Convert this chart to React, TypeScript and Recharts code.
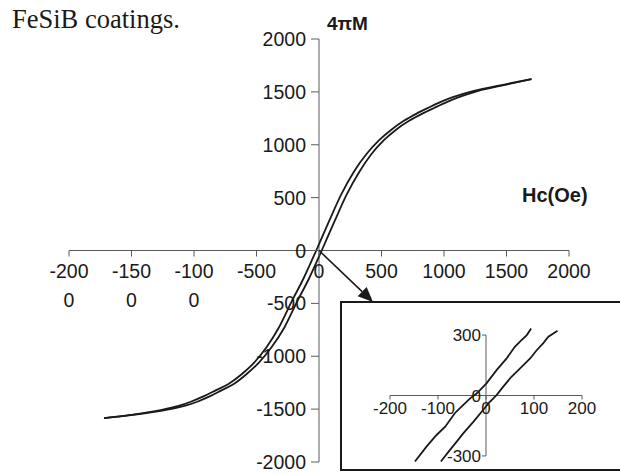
import React from 'react';
import { LineChart, Line, XAxis, YAxis, ReferenceLine } from 'recharts';

// ---------- main loop data ----------
const xTicks = [-2000, -1500, -1000, -500, 0, 500, 1000, 1500, 2000];
const xTickLabels = [['-200', '0'], ['-150', '0'], ['-100', '0'], ['-500'], ['0'], ['500'], ['1000'], ['1500'], ['2000']];
const yTicks = [-2000, -1500, -1000, -500, 0, 500, 1000, 1500, 2000];
const yTickLabels = ['-2000', '-1500', '-1000', '-500', '0', '500', '1000', '1500', '2000'];

const loopM = [-1585, -1555, -1510, -1470, -1430, -1380, -1320, -1260, -1170, -1060, -915, -730, -490, -260, 0, 270, 530, 743, 912, 1043, 1145, 1226, 1292, 1350, 1405, 1452, 1508, 1572, 1620];
const descH = [-1720, -1508, -1268, -1124, -1026, -925, -823, -721, -619, -519, -420, -322, -222, -122, -22, 78, 178, 278, 380, 481, 581, 679, 777, 875, 974, 1076, 1232, 1492, 1700];
const ascH = [-1720, -1492, -1232, -1076, -974, -875, -777, -679, -581, -481, -380, -278, -178, -78, 22, 122, 222, 322, 420, 519, 619, 721, 823, 925, 1026, 1124, 1268, 1508, 1700];

// ---------- inset data ----------
const insetXTicks = [-200, -100, 0, 100, 200];
const insetXLabels = ['-200', '-100', '0', '100', '200'];
const insetYTicks = [-300, 0, 300];
const insetYLabels = ['-300', '0', '300'];
const insetLH = [-148, -124, -103, -85, -65, -51, -33, -19, 1, 22, 43, 60, 74, 85, 94];
const insetLM = [-328, -254, -196, -155, -88, -55, -14, 11, 60, 126, 184, 242, 275, 300, 333];
const insetRH = [-94, -75, -61, -47, -26, -6, 5, 22, 36, 53, 71, 92, 106, 119, 130, 149];
const insetRM = [-328, -270, -229, -187, -130, -72, -39, 2, 44, 93, 135, 184, 226, 259, 292, 321];

// annotation arrow (data coordinates of main chart)
const arrowFrom = { x: 0, y: 0 };
const arrowTo = { x: 432, y: -487 };

const descData = descH.map((h, i) => ({ x: h, y: loopM[i] }));
const ascData = ascH.map((h, i) => ({ x: h, y: loopM[i] }));
const insetL = insetLH.map((h, i) => ({ x: h, y: insetLM[i] }));
const insetR = insetRH.map((h, i) => ({ x: h, y: insetRM[i] }));

// ---------- layout ----------
const W = 620;
const H = 474;
const MM = { top: 39, right: 51, bottom: 11, left: 68 };
const ZX = MM.left + 1 + (W - MM.left - 1 - MM.right) / 2;
const ZY = MM.top + (H - MM.top - MM.bottom - 1) / 2;

const IW = 280;
const IH = 168;
const IX = 340;
const IY = 302;
const IM = { top: 23, right: 14, bottom: 3, left: 25 };
const IZX = IM.left + 1 + (IW - IM.left - 1 - IM.right) / 2;
const IZY = IM.top + (IH - IM.top - IM.bottom - 1) / 2;

const FONT = '"Liberation Sans", Arial, sans-serif';
const AXIS = '#5a5a5a';
const INK = '#1a1a1a';

const XTick = (p: any) => {
  const i = xTicks.indexOf(p.payload.value);
  const lines = xTickLabels[i] || [String(p.payload.value)];
  return (
    <g>
      <line x1={p.x} x2={p.x} y1={ZY} y2={ZY + 6} stroke={AXIS} strokeWidth={1} />
      {lines.map((t, k) => (
        <text key={k} x={p.x} y={ZY + 27 + k * 29} textAnchor="middle" fontSize={19.5} fontFamily={FONT} fill={INK}>
          {t}
        </text>
      ))}
    </g>
  );
};

const YTick = (p: any) => {
  const i = yTicks.indexOf(p.payload.value);
  return (
    <g>
      <line x1={ZX - 8} x2={ZX} y1={p.y} y2={p.y} stroke={AXIS} strokeWidth={1} />
      <text x={ZX - 13} y={p.y + 7} textAnchor="end" fontSize={19.5} fontFamily={FONT} fill={INK}>
        {yTickLabels[i]}
      </text>
    </g>
  );
};

const IXTick = (p: any) => {
  const i = insetXTicks.indexOf(p.payload.value);
  return (
    <g>
      <line x1={p.x} x2={p.x} y1={IZY} y2={IZY + 4} stroke={AXIS} strokeWidth={1} />
      <text x={p.x} y={IZY + 18} textAnchor="middle" fontSize={17} fontFamily={FONT} fill={INK}>
        {insetXLabels[i]}
      </text>
    </g>
  );
};

const IYTick = (p: any) => {
  const i = insetYTicks.indexOf(p.payload.value);
  return (
    <g>
      <line x1={IZX - 4} x2={IZX} y1={p.y} y2={p.y} stroke={AXIS} strokeWidth={1} />
      <text x={IZX - 5} y={p.y + 6} textAnchor="end" fontSize={17} fontFamily={FONT} fill={INK}>
        {insetYLabels[i]}
      </text>
    </g>
  );
};

const ArrowShape = (p: any) => {
  const { x1, y1, x2, y2 } = p;
  const dx = x2 - x1;
  const dy = y2 - y1;
  const len = Math.sqrt(dx * dx + dy * dy) || 1;
  const ux = dx / len;
  const uy = dy / len;
  const hl = 15;
  const hw = 6.5;
  const bx = x2 - ux * hl;
  const by = y2 - uy * hl;
  const pts = `${x2},${y2} ${bx - uy * hw},${by + ux * hw} ${bx + uy * hw},${by - ux * hw}`;
  return (
    <g>
      <line x1={x1} y1={y1} x2={bx} y2={by} stroke={INK} strokeWidth={1.6} />
      <polygon points={pts} fill={INK} />
    </g>
  );
};

export default function App() {
  return (
    <div style={{ position: 'absolute', left: 0, top: 0, width: W, height: H, overflow: 'hidden', background: '#fff' }}>
      <div style={{ position: 'absolute', left: 0, top: 0 }}>
        <LineChart width={W} height={H} margin={MM}>
          <XAxis
            dataKey="x"
            type="number"
            domain={[-2000, 2000]}
            ticks={xTicks}
            interval={0}
            height={1}
            axisLine={false}
            tickLine={false}
            tick={(p: any) => <XTick {...p} />}
            allowDataOverflow
          />
          <YAxis
            dataKey="y"
            type="number"
            domain={[-2000, 2000]}
            ticks={yTicks}
            interval={0}
            width={1}
            axisLine={false}
            tickLine={false}
            tick={(p: any) => <YTick {...p} />}
            allowDataOverflow
          />
          <ReferenceLine y={0} stroke={AXIS} strokeWidth={1} />
          <ReferenceLine x={0} stroke={AXIS} strokeWidth={1} />
          <ReferenceLine segment={[arrowFrom, arrowTo]} shape={(p: any) => <ArrowShape {...p} />} />
          <Line data={descData} dataKey="y" type="monotone" stroke={INK} strokeWidth={1.8} dot={false} isAnimationActive={false} />
          <Line data={ascData} dataKey="y" type="monotone" stroke={INK} strokeWidth={1.8} dot={false} isAnimationActive={false} />
        </LineChart>
      </div>
      <div
        style={{
          position: 'absolute',
          left: IX,
          top: IY - 1,
          width: IW,
          height: 170,
          boxSizing: 'border-box',
          border: `2px solid ${INK}`,
          borderRight: 'none',
        }}
      />
      <div style={{ position: 'absolute', left: IX, top: IY }}>
        <LineChart width={IW} height={IH} margin={IM}>
          <XAxis
            dataKey="x"
            type="number"
            domain={[-250, 250]}
            ticks={insetXTicks}
            interval={0}
            height={1}
            axisLine={false}
            tickLine={false}
            tick={(p: any) => <IXTick {...p} />}
            allowDataOverflow
          />
          <YAxis
            dataKey="y"
            type="number"
            domain={[-350, 350]}
            ticks={insetYTicks}
            interval={0}
            width={1}
            axisLine={false}
            tickLine={false}
            tick={(p: any) => <IYTick {...p} />}
            allowDataOverflow
          />
          <ReferenceLine segment={[{ x: -200, y: 0 }, { x: 200, y: 0 }]} stroke={AXIS} strokeWidth={1} />
          <ReferenceLine segment={[{ x: 0, y: -300 }, { x: 0, y: 300 }]} stroke={AXIS} strokeWidth={1} />
          <Line data={insetL} dataKey="y" type="linear" stroke={INK} strokeWidth={1.8} dot={false} isAnimationActive={false} />
          <Line data={insetR} dataKey="y" type="linear" stroke={INK} strokeWidth={1.8} dot={false} isAnimationActive={false} />
        </LineChart>
      </div>
      <svg width={W} height={H} style={{ position: 'absolute', left: 0, top: 0, pointerEvents: 'none' }}>
        <text x={12} y={28} fontSize={26.5} fontFamily='"Liberation Serif", "Times New Roman", serif' fill={INK}>
          FeSiB coatings.
        </text>
        <text x={327} y={29.5} fontSize={19} fontWeight="bold" fontFamily={FONT} fill={INK}>
          4πM
        </text>
        <text x={522} y={202} fontSize={20} fontWeight="bold" fontFamily={FONT} fill={INK}>
          Hc(Oe)
        </text>
      </svg>
    </div>
  );
}
